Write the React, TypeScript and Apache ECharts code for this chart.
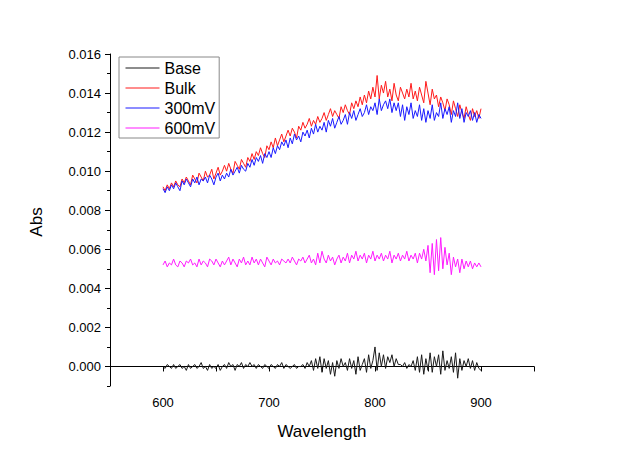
import React, { useEffect, useRef } from "react";
import * as echarts from "echarts";

const wavelengths: number[] = Array.from({ length: 151 }, (_, i) => 600 + 2 * i);

const base = [
  0, -0.0001, 0.0001, 0, -0.0001,
  0.0001, -0.0001, 0, 0.0001, -0.0001,
  0, -0.0002, 0.0001, -0.0001, 0,
  0.0001, -0.0001, 0, 0.0002, -0.0001,
  0, -0.0002, 0.0001, -0.0001, 0,
  -0.0001, 0.0001, -0.0002, 0, 0.0001,
  -0.0001, 0.0002, 0, 0.0001, -0.0002,
  0.0001, 0, 0.0002, -0.0001, 0.0001,
  0, 0.0002, 0, 0.0001, -0.0001,
  0.0001, 0, -0.0001, 0.0001, 0,
  -0.0001, 0.0001, 0, -0.0001, 0.0001,
  0, 0.0002, -0.0001, 0.0001, 0,
  -0.0001, 0, 0.0001, -0.0001, 0,
  0, 0.0001, -0.0001, 0.0002, 0,
  0.0003, -0.0002, 0.0004, -0.0001, 0.0005,
  -0.0003, 0.0004, -0.0001, 0.0003, -0.0004,
  0.0002, -0.0005, 0.0003, -0.0001, 0.0004,
  0, 0.0002, -0.0002, 0.0004, -0.0001,
  0.0003, -0.0004, 0.0005, -0.0002, 0.0001,
  0.0004, -0.0003, 0.0006, -0.0001, 0.0003,
  0.001, -0.0002, 0.0007, 0, 0.0006,
  -0.0001, 0.0005, 0.0002, 0.0006, 0,
  0.0004, 0.0001, 0.0001, 0, 0.0002,
  -0.0001, 0.0001, 0, 0.0003, -0.0002,
  0.0005, -0.0003, 0.0006, -0.0004, 0.0004,
  -0.0002, 0.0007, -0.0003, 0.0005, 0,
  0.0006, -0.0004, 0.0008, -0.0002, 0.0003,
  -0.0001, 0.0005, -0.0003, 0.0007, -0.0006,
  0.0004, -0.0002, 0.0003, 0, 0.0004,
  -0.0001, 0.0003, -0.0002, 0.0002, -0.0001,
  -0.0002,
];

const bulk = [
  0.0092, 0.009, 0.0093, 0.0091, 0.0094,
  0.0092, 0.0095, 0.0093, 0.0092, 0.0096,
  0.0094, 0.0097, 0.0095, 0.0093, 0.0098,
  0.0096, 0.0094, 0.0099, 0.0097, 0.0095,
  0.01, 0.0097, 0.0098, 0.0101, 0.0096,
  0.0099, 0.0102, 0.0098, 0.01, 0.0103,
  0.01, 0.0104, 0.0101, 0.0099, 0.0105,
  0.0103, 0.0101, 0.0106, 0.0104, 0.0102,
  0.0107, 0.0105, 0.0109, 0.0106, 0.011,
  0.0108, 0.0112, 0.0109, 0.0107, 0.0113,
  0.0111, 0.0115, 0.0112, 0.0117, 0.0113,
  0.0116, 0.0119, 0.0115, 0.0118, 0.0121,
  0.0118, 0.0122, 0.012, 0.0117, 0.0123,
  0.0121, 0.0125, 0.0122, 0.0124, 0.0127,
  0.0123, 0.0126, 0.0124, 0.0128, 0.0125,
  0.0127, 0.013, 0.0126, 0.0129, 0.0132,
  0.0128, 0.0131, 0.0129, 0.0127, 0.0133,
  0.013, 0.0134, 0.0131, 0.0129, 0.0135,
  0.0132, 0.0136, 0.0133, 0.0138, 0.0134,
  0.0139, 0.0135, 0.0141, 0.0137, 0.0143,
  0.0138, 0.0149, 0.0137, 0.0144, 0.014,
  0.0146, 0.0138, 0.0142, 0.0136, 0.0145,
  0.0139, 0.0136, 0.0143, 0.014, 0.0137,
  0.0142, 0.0138, 0.0145, 0.0137, 0.0141,
  0.0136, 0.0143, 0.0139, 0.0135, 0.0146,
  0.014, 0.0134, 0.0142, 0.0137, 0.0139,
  0.0133, 0.0138, 0.0135, 0.0131, 0.0137,
  0.0134, 0.0129, 0.0136, 0.0132, 0.0128,
  0.0134, 0.013, 0.0127, 0.0133, 0.0129,
  0.0126, 0.0132, 0.0128, 0.0131, 0.0127,
  0.0132,
];

const mv300 = [
  0.0091, 0.0089, 0.0092, 0.009, 0.0093,
  0.0091, 0.0094, 0.0092, 0.009, 0.0095,
  0.0093, 0.0096, 0.0094, 0.0092, 0.0096,
  0.0094, 0.0097, 0.0093, 0.0096, 0.0095,
  0.0097, 0.0094, 0.0098, 0.0096, 0.0093,
  0.0097, 0.0099, 0.0095, 0.0098, 0.0096,
  0.0099, 0.0097, 0.0101, 0.0098, 0.01,
  0.0102, 0.0099, 0.0103, 0.0101, 0.01,
  0.0104, 0.0102, 0.0106, 0.0103, 0.0107,
  0.0105, 0.0108, 0.0104, 0.0109, 0.0107,
  0.011, 0.0107, 0.0112, 0.0109, 0.0113,
  0.0111, 0.0115, 0.0113, 0.0116, 0.0112,
  0.0117, 0.0114, 0.0119, 0.0116, 0.0118,
  0.0115, 0.012, 0.0118, 0.0121, 0.0117,
  0.0122, 0.0119, 0.0124, 0.012, 0.0123,
  0.0121, 0.0125, 0.012, 0.0126, 0.0123,
  0.0127, 0.0122, 0.0125, 0.0128, 0.0124,
  0.0126, 0.0129, 0.0124, 0.013, 0.0127,
  0.0131, 0.0126, 0.0129, 0.0132, 0.0128,
  0.013, 0.0134, 0.0129, 0.0133, 0.0131,
  0.0135, 0.0129, 0.0137, 0.0131, 0.0134,
  0.0136, 0.0132, 0.0137, 0.013, 0.0135,
  0.0131, 0.0135, 0.0128, 0.0134, 0.0126,
  0.0133, 0.0129, 0.0135, 0.0127, 0.0131,
  0.0128, 0.0134, 0.0126, 0.0132, 0.0125,
  0.0131, 0.0127, 0.0134, 0.0126, 0.013,
  0.0128, 0.0135, 0.0127, 0.0132, 0.0129,
  0.0133, 0.0125, 0.0131, 0.0128, 0.0135,
  0.0127, 0.0132, 0.0125, 0.013, 0.0128,
  0.0131, 0.0126, 0.013, 0.0125, 0.0129,
  0.0127,
];

const mv600 = [
  0.0052, 0.0054, 0.0051, 0.0053, 0.0052,
  0.0055, 0.0052, 0.0051, 0.0054, 0.0053,
  0.0051, 0.0054, 0.0053, 0.0055, 0.0052,
  0.0053, 0.0051, 0.0055, 0.0052, 0.0054,
  0.0053, 0.0051, 0.0055, 0.0054, 0.0052,
  0.0055, 0.0053, 0.0051, 0.0054, 0.0052,
  0.0054, 0.0056, 0.0052, 0.0055, 0.0053,
  0.0051, 0.0055, 0.0053, 0.0056, 0.0052,
  0.0054, 0.0052, 0.0056, 0.0053, 0.0055,
  0.0052, 0.0055, 0.0053, 0.0051, 0.0056,
  0.0054, 0.0052, 0.0055, 0.0053, 0.0054,
  0.0052, 0.0055, 0.0054, 0.0053, 0.0055,
  0.0053, 0.0056, 0.0054, 0.0052, 0.0055,
  0.0054, 0.0056, 0.0053, 0.0055, 0.0057,
  0.0053, 0.0055, 0.0052, 0.0058, 0.0053,
  0.0059, 0.0055, 0.0053, 0.0057, 0.0054,
  0.0056, 0.0052, 0.0055, 0.0057, 0.0053,
  0.0056, 0.0054, 0.0058, 0.0053, 0.0057,
  0.0055, 0.0059, 0.0054, 0.0057, 0.0055,
  0.0058, 0.0053, 0.0057, 0.0055, 0.0059,
  0.0054, 0.0057, 0.0055, 0.0058, 0.0054,
  0.0057, 0.0055, 0.0059, 0.0053, 0.0057,
  0.0055, 0.0058, 0.0054, 0.0057, 0.0055,
  0.0059, 0.0054, 0.0057, 0.0055, 0.0058,
  0.0053, 0.0058, 0.0055, 0.006, 0.0054,
  0.0062, 0.0048, 0.0063, 0.0047, 0.0065,
  0.0049, 0.0066, 0.005, 0.0061, 0.0052,
  0.0058, 0.0047, 0.0056, 0.0051, 0.0055,
  0.0048, 0.0055, 0.005, 0.0054, 0.0051,
  0.0054, 0.005, 0.0053, 0.0051, 0.0053,
  0.0051,
];

const seriesNames = ["Base", "Bulk", "300mV", "600mV"];
const seriesColors = ["#1a1a1a", "#ff1a1a", "#1a1aff", "#ff1aff"];
const seriesValues = [base, bulk, mv300, mv600];
const xTickLabels = [600, 700, 800, 900];
const yMajorTicks = [0, 0.002, 0.004, 0.006, 0.008, 0.01, 0.012, 0.014, 0.016];
const yMinorTicks = [-0.001, 0.001, 0.003, 0.005, 0.007, 0.009, 0.011, 0.013, 0.015];

const FONT = "'Liberation Sans', Arial, sans-serif";

export default function App() {
  const ref = useRef<HTMLDivElement>(null);
  useEffect(() => {
    if (!ref.current) return;
    const chart = echarts.init(ref.current, null, { renderer: "svg" });
    const axisLineStyle = { color: "#000", width: 1 };
    chart.setOption({
      animation: false,
      backgroundColor: "#fff",
      grid: { left: 110, right: 87, top: 54, bottom: 76, containLabel: false },
      legend: {
        orient: "vertical",
        left: 119,
        top: 57,
        padding: [3, 4, 2, 6],
        itemGap: 4,
        itemWidth: 34,
        itemHeight: 16,
        borderColor: "#888",
        borderWidth: 1,
        backgroundColor: "#fff",
        itemStyle: { opacity: 0 },
        lineStyle: { width: 1 },
        textStyle: { fontSize: 16, fontFamily: FONT, color: "#000", padding: [0, 0, 0, 0] },
        data: seriesNames,
      },
      xAxis: {
        type: "value",
        min: 550,
        max: 950,
        interval: 50,
        axisLine: { show: true, lineStyle: axisLineStyle },
        axisTick: { show: true, length: 5, lineStyle: axisLineStyle },
        axisLabel: {
          fontSize: 13,
          fontFamily: FONT,
          color: "#000",
          margin: 10,
          formatter: (v: number) => (xTickLabels.includes(v) ? String(v) : ""),
        },
        splitLine: { show: false },
      },
      yAxis: [
        {
          type: "value",
          min: -0.001,
          max: 0.016,
          axisLine: { show: true, lineStyle: axisLineStyle },
          axisTick: { show: true, length: 5, lineStyle: axisLineStyle, customValues: yMajorTicks },
          axisLabel: {
            fontSize: 13,
            fontFamily: FONT,
            color: "#000",
            margin: 9,
            customValues: yMajorTicks,
            formatter: (v: number) => v.toFixed(3),
          },
          splitLine: { show: false },
        },
        {
          type: "value",
          min: -0.001,
          max: 0.016,
          position: "left",
          axisLine: { show: false },
          axisTick: { show: true, length: 3, lineStyle: axisLineStyle, customValues: yMinorTicks },
          axisLabel: { show: false },
          splitLine: { show: false },
        },
      ],
      series: seriesNames.map((name, i) => ({
        name,
        type: "line",
        yAxisIndex: 0,
        symbol: "none",
        showSymbol: false,
        lineStyle: { width: 1, color: seriesColors[i] },
        itemStyle: { color: seriesColors[i] },
        data: wavelengths.map((w, j) => [w, seriesValues[i][j]]),
      })),
      graphic: [
        {
          type: "text",
          x: 36,
          y: 222,
          rotation: Math.PI / 2,
          style: {
            text: "Abs",
            fontSize: 17,
            fontFamily: FONT,
            fill: "#000",
            align: "center",
            verticalAlign: "middle",
          },
        },
        {
          type: "text",
          x: 322,
          y: 431,
          style: {
            text: "Wavelength",
            fontSize: 17,
            fontFamily: FONT,
            fill: "#000",
            align: "center",
            verticalAlign: "middle",
          },
        },
      ],
    });
    return () => chart.dispose();
  }, []);
  return (
    <div
      ref={ref}
      style={{ position: "fixed", left: 0, top: 0, width: 621, height: 462, background: "#fff" }}
    />
  );
}
